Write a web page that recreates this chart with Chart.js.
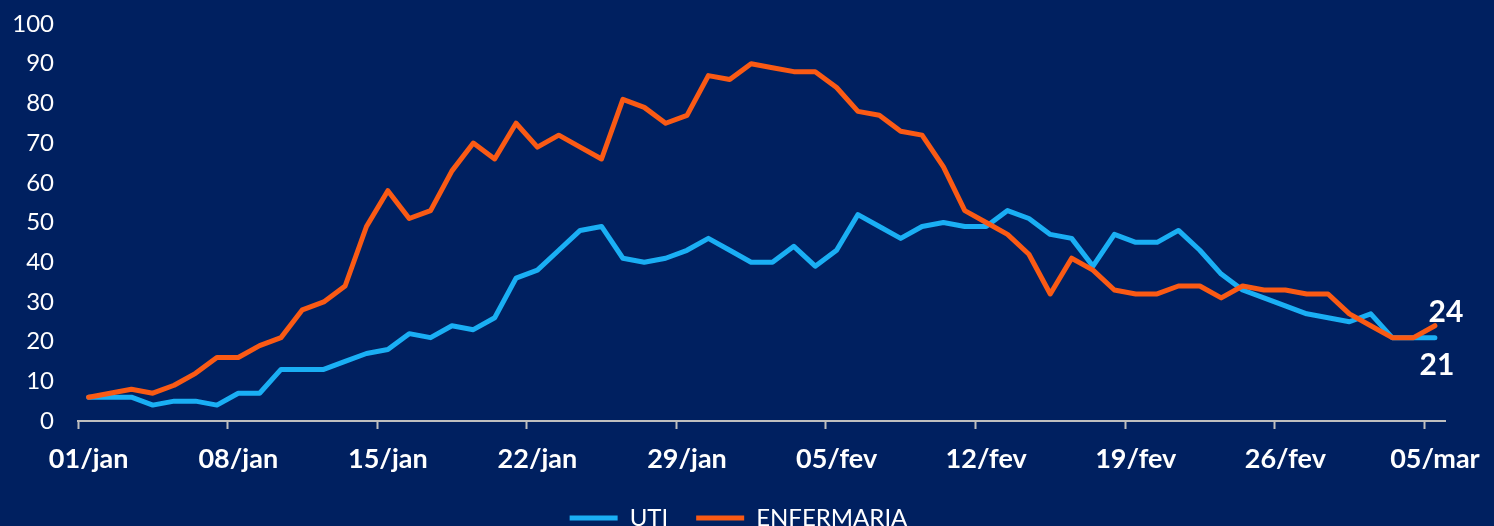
<!DOCTYPE html>
<html>
<head>
<meta charset="utf-8">
<script src="https://cdn.jsdelivr.net/npm/chart.js@4/dist/chart.umd.min.js"></script>
<style>
  html, body { margin: 0; padding: 0; background: #002060; overflow: hidden; }
  #wrap { width: 1494px; height: 540px; }
</style>
</head>
<body>
<div id="wrap"><canvas id="chart"></canvas></div>
<script>
// dias (01/jan a 05/mar)
const days = [
  '01/jan','02/jan','03/jan','04/jan','05/jan','06/jan','07/jan','08/jan','09/jan','10/jan',
  '11/jan','12/jan','13/jan','14/jan','15/jan','16/jan','17/jan','18/jan','19/jan','20/jan',
  '21/jan','22/jan','23/jan','24/jan','25/jan','26/jan','27/jan','28/jan','29/jan','30/jan',
  '31/jan','01/fev','02/fev','03/fev','04/fev','05/fev','06/fev','07/fev','08/fev','09/fev',
  '10/fev','11/fev','12/fev','13/fev','14/fev','15/fev','16/fev','17/fev','18/fev','19/fev',
  '20/fev','21/fev','22/fev','23/fev','24/fev','25/fev','26/fev','27/fev','28/fev','01/mar',
  '02/mar','03/mar','04/mar','05/mar'
];

const uti = [
  6, 6, 6, 4, 5, 5, 4, 7, 7, 13,
  13, 13, 15, 17, 18, 22, 21, 24, 23, 26,
  36, 38, 43, 48, 49, 41, 40, 41, 43, 46,
  43, 40, 40, 44, 39, 43, 52, 49, 46, 49,
  50, 49, 49, 53, 51, 47, 46, 39, 47, 45,
  45, 48, 43, 37, 33, 31, 29, 27, 26, 25,
  27, 21, 21, 21
];

const enfermaria = [
  6, 7, 8, 7, 9, 12, 16, 16, 19, 21,
  28, 30, 34, 49, 58, 51, 53, 63, 70, 66,
  75, 69, 72, 69, 66, 81, 79, 75, 77, 87,
  86, 90, 89, 88, 88, 84, 78, 77, 73, 72,
  64, 53, 50, 47, 42, 32, 41, 38, 33, 32,
  32, 34, 34, 31, 34, 33, 33, 32, 32, 27,
  24, 21, 21, 24
];

const yTicks = [0, 10, 20, 30, 40, 50, 60, 70, 80, 90, 100];

const BLUE = '#1aaff4';
const ORANGE = '#fa5a14';
const FONT = 'Lato, "Open Sans", sans-serif';

// rotulo do ultimo valor de cada serie
const lastLabels = {
  id: 'lastLabels',
  afterDatasetsDraw(chart) {
    const ctx = chart.ctx;
    const offsets = [[2, 28], [11, -13]];
    ctx.save();
    ctx.font = 'bold 30px ' + FONT;
    ctx.fillStyle = '#ffffff';
    ctx.textAlign = 'center';
    ctx.textBaseline = 'middle';
    chart.data.datasets.forEach((ds, i) => {
      const meta = chart.getDatasetMeta(i);
      const pt = meta.data[meta.data.length - 1];
      ctx.fillText(String(ds.data[ds.data.length - 1]), pt.x + offsets[i][0], pt.y + offsets[i][1]);
    });
    ctx.restore();
  }
};

new Chart(document.getElementById('chart').getContext('2d'), {
  type: 'line',
  data: {
    labels: days,
    datasets: [
      {
        label: 'UTI',
        data: uti,
        borderColor: BLUE,
        backgroundColor: BLUE,
        borderWidth: 5,
        borderCapStyle: 'round',
        borderJoinStyle: 'round',
        pointRadius: 0,
        tension: 0,
        order: 1
      },
      {
        label: 'ENFERMARIA',
        data: enfermaria,
        borderColor: ORANGE,
        backgroundColor: ORANGE,
        borderWidth: 5,
        borderCapStyle: 'round',
        borderJoinStyle: 'round',
        pointRadius: 0,
        tension: 0,
        order: 0
      }
    ]
  },
  options: {
    responsive: true,
    maintainAspectRatio: false,
    animation: false,
    layout: { padding: { top: 24, right: 17, left: 0, bottom: 0 } },
    plugins: {
      tooltip: { enabled: false },
      legend: {
        position: 'bottom',
        labels: {
          color: '#ffffff',
          font: { family: FONT, size: 24 },
          usePointStyle: true,
          pointStyle: 'line',
          pointStyleWidth: 48,
          padding: 28,
          sort: (a, b) => a.datasetIndex - b.datasetIndex
        }
      }
    },
    scales: {
      x: {
        offset: true,
        afterFit: (scale) => { scale.height = 57; },
        border: { display: true, color: '#bfbfbf', width: 2 },
        grid: {
          offset: true,
          drawOnChartArea: false,
          drawTicks: true,
          tickLength: 8,
          tickWidth: 2,
          color: (ctx) => (ctx.index % 7 === 0 ? '#bfbfbf' : 'rgba(0,0,0,0)')
        },
        ticks: {
          autoSkip: false,
          maxRotation: 0,
          minRotation: 0,
          padding: 14,
          color: '#ffffff',
          font: { family: FONT, size: 27, weight: 'bold' },
          callback: (v, i) => (i % 7 === 0 ? days[i] : '')
        }
      },
      y: {
        min: 0,
        max: 100,
        afterFit: (scale) => {
          scale.width = 78;
          scale.paddingTop = 14;
          scale.paddingBottom = 14;
        },
        afterBuildTicks: (scale) => { scale.ticks = yTicks.map(v => ({ value: v })); },
        border: { display: false },
        grid: { display: false, drawTicks: false },
        ticks: {
          padding: 24,
          color: '#ffffff',
          font: { family: FONT, size: 24 }
        }
      },
      // espaco vazio a direita do grafico
      yRight: {
        position: 'right',
        afterFit: (scale) => { scale.width = 28; },
        border: { display: false },
        grid: { display: false, drawTicks: false },
        ticks: { display: false }
      }
    }
  },
  plugins: [lastLabels]
});
</script>
</body>
</html>
